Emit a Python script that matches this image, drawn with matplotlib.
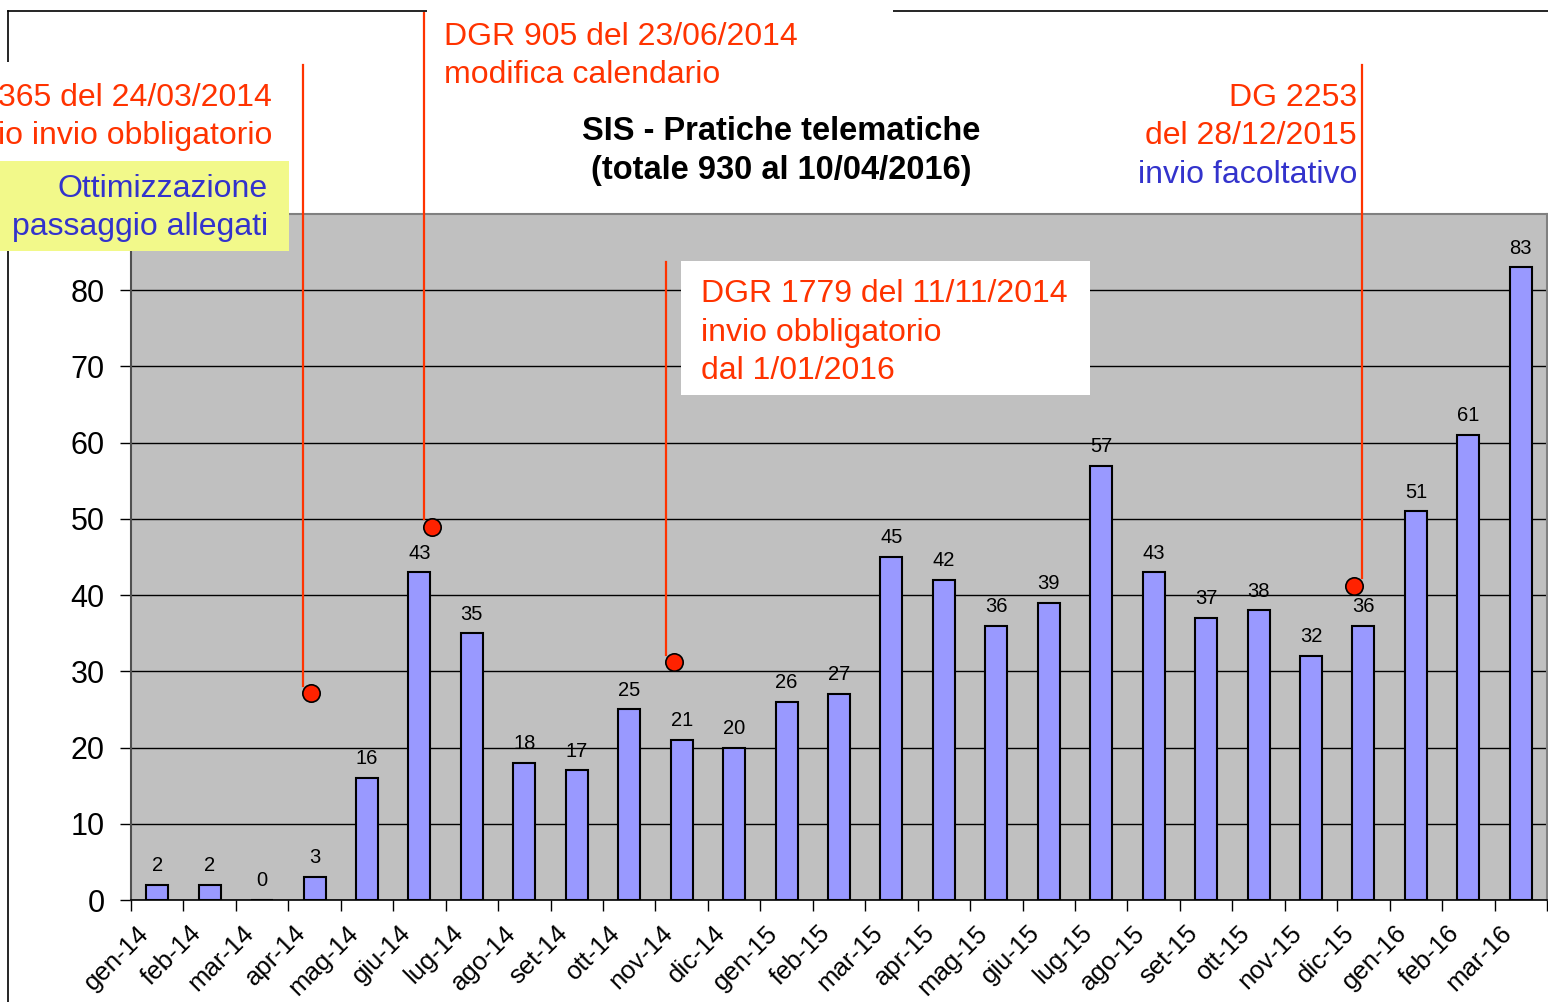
import matplotlib
matplotlib.use("Agg")
import matplotlib.pyplot as plt
import matplotlib.transforms as mtransforms
from matplotlib.patches import Rectangle
from matplotlib.lines import Line2D

plt.rcParams['font.family'] = ['Liberation Sans', 'DejaVu Sans']

# data
months = ['gen-14', 'feb-14', 'mar-14', 'apr-14', 'mag-14', 'giu-14', 'lug-14',
          'ago-14', 'set-14', 'ott-14', 'nov-14', 'dic-14', 'gen-15', 'feb-15',
          'mar-15', 'apr-15', 'mag-15', 'giu-15', 'lug-15', 'ago-15', 'set-15',
          'ott-15', 'nov-15', 'dic-15', 'gen-16', 'feb-16', 'mar-16']
pratiche = [2, 2, 0, 3, 16, 43, 35, 18, 17, 25, 21, 20, 26, 27,
            45, 42, 36, 39, 57, 43, 37, 38, 32, 36, 51, 61, 83]

# event markers (category units, value units)
event_x = [2.93, 5.24, 9.85, 22.82]
event_y = [27.1, 49.0, 31.2, 41.2]
leader_x = [2.78, 5.09, 9.70, 22.97]
leader_top = [109.5, 116.4, 83.7, 109.5]

RED = '#ff3300'
BLUE = '#3333cc'
W, H = 1548, 1002


def px(x, y):
    return x / W, 1 - y / H


fig = plt.figure(figsize=(W / 100, H / 100), dpi=100)
ax = fig.add_axes([131 / W, 1 - 900 / H, 1416 / W, 686 / H])
ax.set_facecolor('#c0c0c0')

xs = list(range(len(months)))
ax.bar(xs, pratiche, width=0.42, color='#9999ff', edgecolor='black', linewidth=1.5, zorder=3)
for x, v in zip(xs, pratiche):
    ax.annotate(str(v), (x, v), xytext=(0, 7), textcoords='offset points',
                ha='center', va='bottom', fontsize=14.5, zorder=4)

ax.set_xlim(-0.5, len(months) - 0.5)
ax.set_ylim(0, 90)
ax.set_yticks(range(0, 90, 10))
ax.tick_params(axis='y', labelsize=22, length=8, width=1, pad=11)
ax.yaxis.grid(True, color='black', linewidth=1)
ax.set_axisbelow(True)

ax.set_xticks(xs)
ax.set_xticklabels(months, rotation=45, ha='right', va='top', rotation_mode='anchor', fontsize=18.5)
ax.tick_params(axis='x', length=0, pad=15)
ax.set_xticks([i - 0.5 for i in range(len(months) + 1)], minor=True)
ax.tick_params(axis='x', which='minor', length=8, width=1)
offset = mtransforms.ScaledTranslation(-0.21, 0, fig.dpi_scale_trans)
for lab in ax.get_xticklabels():
    lab.set_transform(lab.get_transform() + offset)

for side in ['top', 'right']:
    ax.spines[side].set_color('#808080')
    ax.spines[side].set_linewidth(1.5)
ax.spines['left'].set_color('#505050')
ax.spines['left'].set_linewidth(1.5)
ax.spines['bottom'].set_linewidth(1.2)

# leader lines and event dots
for lx, ex, ey, top in zip(leader_x, event_x, event_y, leader_top):
    ax.plot([lx, lx], [ey + 1.0, top], color=RED, lw=1.6, clip_on=False, zorder=5)
ax.plot(event_x, event_y, 'o', color='#ff2200', markeredgecolor='black', markersize=12.5,
        markeredgewidth=1.2, clip_on=False, zorder=6)

# outer frame
fig.add_artist(Line2D([px(8, 0)[0], px(8, 0)[0]], [px(0, 11)[1], 0], color='black', lw=1.2))
fig.add_artist(Line2D([px(8, 0)[0], 1], [px(0, 11)[1], px(0, 11)[1]], color='black', lw=1.2))

# boxes
def box(x0, y0, x1, y1, color):
    fx0, fy1 = px(x0, y1)
    fx1, fy0 = px(x1, y0)
    fig.add_artist(Rectangle((fx0, fy1), fx1 - fx0, fy0 - fy1, transform=fig.transFigure,
                             facecolor=color, edgecolor='none', zorder=2))

box(0, 62, 290, 161, 'white')
box(0, 161, 289, 251, '#f2f98a')
box(427, 0, 893, 100, 'white')
box(681, 261, 1090, 395, 'white')

def txt(x, y, s, color, ha='left', size=23, weight='normal'):
    fig.text(*px(x, y + 3), s, color=color, ha=ha, va='center', fontsize=size,
             fontweight=weight, zorder=3)

txt(444, 34, 'DGR 905 del 23/06/2014', RED)
txt(444, 72, 'modifica calendario', RED)
txt(272, 95, '365 del 24/03/2014', RED, ha='right')
txt(272, 133, 'io invio obbligatorio', RED, ha='right')
txt(268, 186, 'Ottimizzazione', BLUE, ha='right')
txt(268, 224, 'passaggio allegati', BLUE, ha='right')
txt(781, 129, 'SIS - Pratiche telematiche', 'black', ha='center', size=23.5, weight='bold')
txt(781, 168, '(totale 930 al 10/04/2016)', 'black', ha='center', size=23.5, weight='bold')
txt(1357, 95, 'DG 2253', RED, ha='right')
txt(1357, 133, 'del 28/12/2015', RED, ha='right')
txt(1357, 172, 'invio facoltativo', BLUE, ha='right')
txt(701, 291, 'DGR 1779 del 11/11/2014', RED)
txt(701, 330, 'invio obbligatorio', RED)
txt(701, 368, 'dal 1/01/2016', RED)

fig.savefig('out.png', dpi=100)
